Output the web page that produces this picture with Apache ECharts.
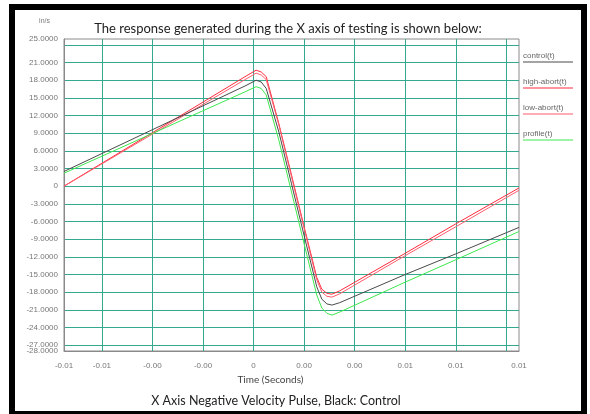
<!DOCTYPE html>
<html>
<head>
<meta charset="utf-8">
<script src="https://cdn.jsdelivr.net/npm/echarts@6/dist/echarts.min.js"></script>
<style>
html,body{margin:0;padding:0;background:#fff;}
#chart{width:590px;height:414px;}
</style>
</head>
<body>
<div id="chart"></div>
<script>
// ---- data ----
const seriesNames = ['control(t)', 'high-abort(t)', 'low-abort(t)', 'profile(t)'];
const seriesColors = ['#4a4a4a', '#ff2b3c', '#ff5d6d', '#3ee84e'];
const timeSec = [-0.0075, -0.0003, 0.0001, 0.0003, 0.0005, 0.0010, 0.0015, 0.0020, 0.0025, 0.0027, 0.0029, 0.0031, 0.0034, 0.0060, 0.0080, 0.0105];
const controlVals   = [2.5, 17.1, 18.0, 17.7, 16.6, 9.2, 0.4, -8.4, -17.1, -19.2, -20.0, -20.2, -19.8, -15.0, -11.5, -7.0];
const highAbortVals = [0, 18.7, 19.7, 19.4, 18.6, 10.6, 1.9, -6.9, -15.5, -17.5, -18.2, -18.35, -17.8, -11.4, -6.4, -0.3];
const lowAbortVals  = [0, 18.2, 19.2, 18.9, 18.1, 10.4, 1.6, -7.2, -15.9, -18.0, -18.7, -18.85, -18.3, -11.8, -6.9, -0.7];
const profileVals   = [2.2, 16.1, 16.9, 16.6, 15.5, 7.8, -1.0, -9.8, -18.5, -20.7, -21.6, -21.9, -21.4, -16.3, -12.5, -7.7];
const yTickLabels = [25, 21, 18, 15, 12, 9, 6, 3, 0, -3, -6, -9, -12, -15, -18, -21, -24, -27, -28];
const xTickLabels = [-0.0075, -0.006, -0.004, -0.002, 0, 0.002, 0.004, 0.006, 0.008, 0.0105];
const allVals = [controlVals, highAbortVals, lowAbortVals, profileVals];

const gridColor = '#35a98f';
const clear = 'rgba(0,0,0,0)';
const titleFont = "Lato, 'Open Sans', sans-serif";
const smallFont = "'Liberation Sans', sans-serif";

const chart = echarts.init(document.getElementById('chart'), null, {renderer: 'canvas'});

const rich = {};
seriesColors.forEach((c, i) => {
  rich['u' + i] = {width: 50, height: 1, lineHeight: 3, backgroundColor: c};
});
rich.t = {fontSize: 8, lineHeight: 9, color: '#666', fontFamily: smallFont};

chart.setOption({
  animation: false,
  backgroundColor: '#fff',
  title: [
    {text: 'The response generated during the X axis of testing is shown below:', left: 283, top: 17, textAlign: 'center',
     textStyle: {fontSize: 13, fontWeight: 'normal', color: '#222', fontFamily: titleFont}},
    {text: 'X Axis Negative Velocity Pulse, Black: Control', left: 271, top: 389, textAlign: 'center',
     textStyle: {fontSize: 12.5, fontWeight: 'normal', color: '#222', fontFamily: titleFont}}
  ],
  graphic: [
    {type: 'rect', shape: {x: 12, y: 7, width: 572, height: 407}, style: {fill: null, stroke: '#000', lineWidth: 6}, silent: true}
  ],
  legend: {
    data: seriesNames,
    orient: 'vertical',
    left: 517,
    top: 52,
    padding: 0,
    itemWidth: 0,
    itemHeight: 0,
    itemGap: 10,
    formatter: name => '{t|' + name + '}\n{u' + seriesNames.indexOf(name) + '|}',
    textStyle: {rich: rich}
  },
  grid: {left: 64, right: 71, top: 39, bottom: 63, show: true, borderColor: '#8a8a8a', borderWidth: 1, containLabel: false},
  xAxis: {
    type: 'value',
    min: -0.0075,
    max: 0.0105,
    interval: 0.0005,
    name: 'Time (Seconds)',
    nameLocation: 'middle',
    nameGap: 24,
    nameTextStyle: {fontSize: 10, color: '#444', padding: [0, 42, 0, 0], fontFamily: titleFont},
    axisLine: {show: true, onZero: false, lineStyle: {color: '#8a8a8a'}},
    axisTick: {show: false},
    axisLabel: {
      color: '#777', fontSize: 8, margin: 11, fontFamily: smallFont,
      showMinLabel: true, showMaxLabel: true, hideOverlap: false,
      formatter: v => {
        const hit = xTickLabels.some(t => Math.abs(t - v) < 1e-9);
        if (!hit) return '';
        if (Math.abs(v) < 1e-12) return '0';
        return v.toFixed(2);
      }
    },
    splitLine: {show: true, lineStyle: {color: [clear, clear, clear, gridColor], width: 1}}
  },
  yAxis: {
    type: 'value',
    min: -28,
    max: 25,
    interval: 0.5,
    name: 'in/s',
    nameLocation: 'end',
    nameGap: 14,
    nameTextStyle: {fontSize: 7, color: '#777', align: 'right', padding: [0, 14, 0, 0], fontFamily: smallFont},
    axisLine: {show: true, onZero: false, lineStyle: {color: '#8a8a8a'}},
    axisTick: {show: false},
    axisLabel: {
      color: '#777', fontSize: 8, margin: 6, fontFamily: smallFont,
      showMinLabel: true, showMaxLabel: true, hideOverlap: false,
      formatter: v => {
        if (Math.abs(v - Math.round(v)) > 1e-6) return '';
        const r = Math.round(v);
        if (!yTickLabels.includes(r)) return '';
        return r === 0 ? '0' : r.toFixed(4);
      }
    },
    splitLine: {show: true, lineStyle: {color: [clear, clear, gridColor, clear, clear, clear], width: 1}}
  },
  series: seriesNames.map((n, i) => ({
    name: n,
    type: 'line',
    data: timeSec.map((t, k) => [t, allVals[i][k]]),
    showSymbol: false,
    symbol: 'none',
    lineStyle: {width: 1, color: seriesColors[i]},
    itemStyle: {color: seriesColors[i]},
    z: i === 0 ? 3 : 2
  }))
});
</script>
</body>
</html>
